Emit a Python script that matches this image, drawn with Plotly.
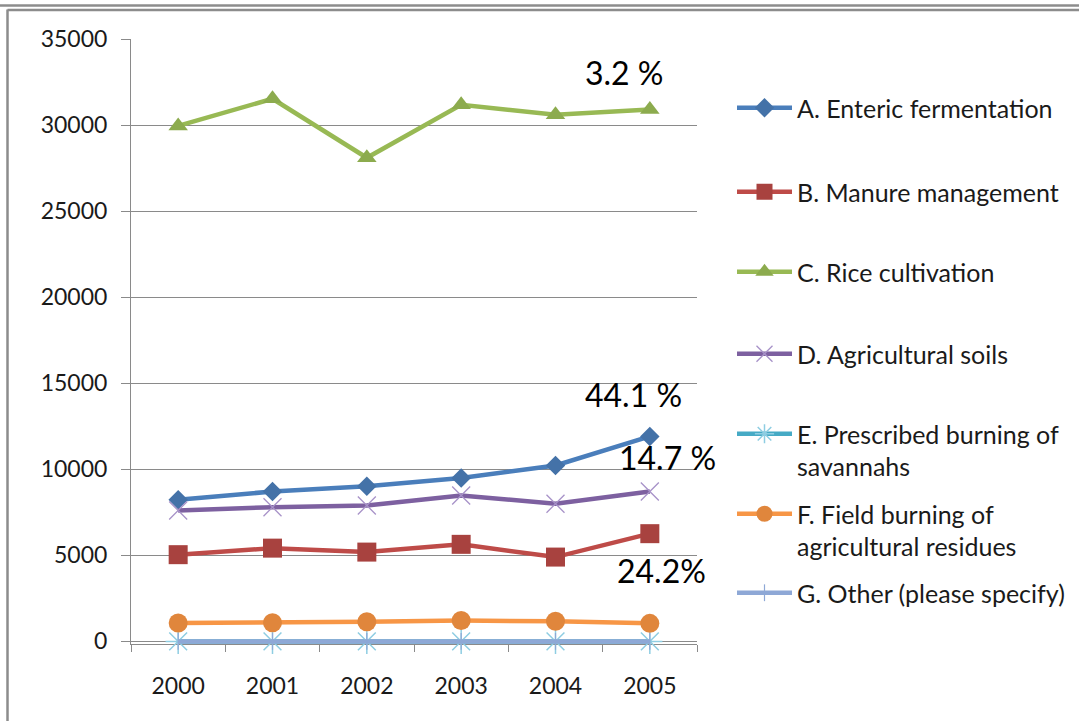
import plotly.graph_objects as go

years = ["2000", "2001", "2002", "2003", "2004", "2005"]
enteric = [8230, 8710, 9020, 9490, 10220, 11910]
manure = [5040, 5420, 5190, 5640, 4900, 6260]
rice = [29950, 31530, 28100, 31180, 30600, 30900]
soils = [7610, 7800, 7900, 8480, 8000, 8710]
savannahs = [0, 0, 0, 0, 0, 0]
residues = [1070, 1090, 1140, 1210, 1170, 1050]
other = [0, 0, 0, 0, 0, 0]

names = [
    "A. Enteric fermentation",
    "B. Manure management",
    "C. Rice cultivation",
    "D. Agricultural soils",
    "E. Prescribed burning of<br>savannahs",
    "F. Field burning of<br>agricultural residues",
    "G. Other (please specify)",
]
series = [enteric, manure, rice, soils, savannahs, residues, other]
share_labels = ["3.2 %", "44.1 %", "14.7 %", "24.2%"]

styles = [
    dict(line="#4A7EBB", mcolor="#4472A8", symbol="diamond", size=15, mline=0),
    dict(line="#BE4B48", mcolor="#A8423F", symbol="square", size=19, mline=0),
    dict(line="#98B954", mcolor="#8CAB4E", symbol="triangle-up", size=17, mline=0),
    dict(line="#7D60A0", mcolor="#A792C8", symbol="x-thin-open", size=18, mline=1.3),
    dict(line="#46AAC5", mcolor="#8ECDE2", symbol="asterisk-open", size=21, mline=1.5),
    dict(line="#F79646", mcolor="#E0863C", symbol="circle", size=19, mline=0),
    dict(line="#8EA8D6", mcolor="#8EA8D6", symbol="line-ns-open", size=12, mline=1.2),
]

W, H = 1079, 721
L, R, T, ZERO = 131, 697, 38.5, 641
YMIN, YMAX = -150, 35000
plot_h = (ZERO - T) * (YMAX - YMIN) / YMAX
B = T + plot_h
FONT = "Lato"
FS_LEG = 25
FS_TICK = 23

fig = go.Figure()
legend_first_line_y = [108, 192, 272, 354, 434, 514, 593]
for i, (nm, vals, st) in enumerate(zip(names, series, styles)):
    lg = "legend" if i == 0 else f"legend{i+1}"
    fig.add_trace(go.Scatter(
        x=years, y=vals, name=nm, mode="lines+markers",
        line=dict(color=st["line"], width=4.5),
        marker=dict(symbol=st["symbol"], size=st["size"], color=st["mcolor"],
                    line=dict(width=st["mline"], color=st["mcolor"])),
        legend=lg, showlegend=True, cliponaxis=False,
    ))

layout_legends = {}
for i, yy in enumerate(legend_first_line_y):
    key = "legend" if i == 0 else f"legend{i+1}"
    layout_legends[key] = dict(
        xref="container", yref="container",
        x=732 / W, y=1 - (yy - 23) / H, xanchor="left", yanchor="top",
        font=dict(family=FONT, size=FS_LEG, color="#1a1a1a"),
        bgcolor="rgba(0,0,0,0)", borderwidth=0, valign="top",
        itemwidth=55, tracegroupgap=0,
    )

def px_x(X):
    return (X - L) / (R - L)

def px_y(Y):
    return (B - Y) / (B - T)

annots = []
pos = [(624, 72), (633, 394), (667, 457), (661, 570)]
for txt, (X, Y) in zip(share_labels, pos):
    annots.append(dict(text=txt, xref="paper", yref="paper", x=px_x(X), y=px_y(Y),
                       xanchor="center", yanchor="middle", showarrow=False,
                       font=dict(family=FONT, size=32, color="#000000")))

frame_col = "#8c8c8c"
shapes = [
    dict(type="line", xref="paper", yref="paper", x0=px_x(0), x1=px_x(W), y0=px_y(5), y1=px_y(5),
         line=dict(color=frame_col, width=2.5)),
    dict(type="line", xref="paper", yref="paper", x0=px_x(7.5), x1=px_x(W), y0=px_y(9.5), y1=px_y(9.5),
         line=dict(color=frame_col, width=2.5)),
    dict(type="line", xref="paper", yref="paper", x0=px_x(7.5), x1=px_x(7.5), y0=px_y(9), y1=px_y(740),
         line=dict(color=frame_col, width=2.5)),
]

fig.update_layout(
    width=W, height=H, showlegend=True,
    margin=dict(l=L, r=W - R, t=T, b=H - B, pad=0),
    paper_bgcolor="white", plot_bgcolor="white",
    font=dict(family=FONT, size=FS_TICK, color="#1a1a1a"),
    annotations=annots, shapes=shapes,
    xaxis=dict(type="category", showgrid=False, showline=True, linecolor="#8a8a8a", linewidth=1,
               ticks="outside", ticklen=7, tickcolor="#8a8a8a", tickson="boundaries",
               ticklabelstandoff=21, tickfont=dict(family=FONT, size=FS_TICK, color="#1a1a1a"),
               range=[-0.5, 5.5], zeroline=False, layer="below traces"),
    yaxis=dict(range=[YMIN, YMAX], tick0=0, dtick=5000, showgrid=True, gridcolor="#8a8a8a", gridwidth=1,
               showline=True, linecolor="#8a8a8a", linewidth=1, ticks="outside", ticklen=9,
               tickcolor="#8a8a8a", ticklabelstandoff=9, tickformat="d",
               tickfont=dict(family=FONT, size=FS_TICK, color="#1a1a1a"), zeroline=False,
               layer="below traces"),
    **layout_legends,
)

fig.write_html("out.html")
